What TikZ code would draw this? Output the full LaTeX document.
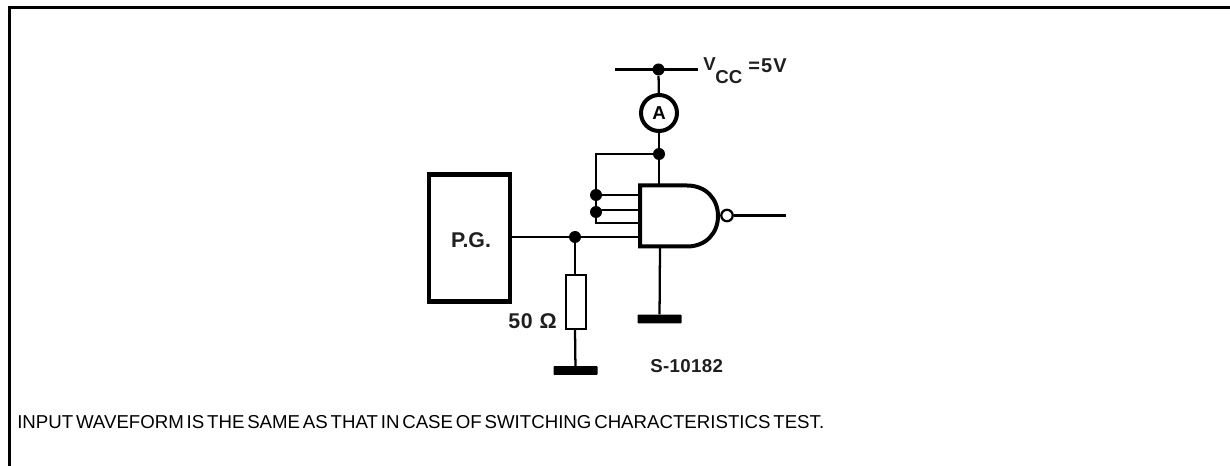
\documentclass[tikz,border=0pt]{standalone}
\usepackage{fontspec}
\usetikzlibrary{shapes.geometric}
\setmainfont{Liberation Sans}
\begin{document}
\begin{tikzpicture}[x=0.75pt,y=-0.75pt,
  wire/.style={line width=1.7pt,black},
  dotj/.style={circle,fill=black,draw=none,minimum size=9pt,inner sep=0pt},
  bar/.style={fill=black,draw=none,rounded corners=0.5pt,inner sep=0pt,minimum width=33pt,minimum height=6.4pt},
  scan/.style={font=\fontsize{14pt}{15pt}\selectfont\bfseries,text=black!88,inner sep=0pt},
  frame/.style={line width=2.3pt,black}]
\useasboundingbox (0,0) rectangle (1230,466);
\draw[frame] (9.5,466) -- (9.5,7.5) -- (1230,7.5);
% supply
\coordinate (vl) at (615,69.5);
\coordinate (vr) at (698,69.5);
\node[dotj] (j1) at (658.5,69.5) {};
\node[circle,draw=black,line width=3pt,minimum size=27pt,inner sep=0pt,font=\fontsize{14pt}{15pt}\selectfont\bfseries] (am) at (659,113) {A};
\node[dotj] (j2) at (659,154) {};
\coordinate (c1) at (596,154);
\node[dotj] (j3) at (596,195) {};
\node[dotj] (j4) at (596,212) {};
\coordinate (c2) at (596,223);
\coordinate (i1) at (638,195);
\coordinate (i2) at (638,210);
\coordinate (i3) at (638,223);
\coordinate (i4) at (638,237);
\coordinate (gt) at (659,185);
\coordinate (gb) at (660,247);
\node[circle,draw=black,line width=1.7pt,minimum size=8.6pt,inner sep=0pt] (bub) at (727,215.5) {};
\coordinate (out) at (786,215.5);
\node[draw=black,line width=3.4pt,minimum width=60.5pt,minimum height=95pt,inner sep=0pt] (pg) at (469.5,238) {};
\node[scan,font=\fontsize{16pt}{17pt}\selectfont\bfseries] (pgt) at (471,240) {P.G.};
\node[dotj] (j5) at (575,237) {};
\node[draw=black,line width=1.7pt,minimum width=15.5pt,minimum height=40pt,inner sep=0pt] (res) at (576,302) {};
\node[bar] (g1) at (575.5,370.5) {};
\node[bar] (g2) at (659.5,319) {};
\draw[wire] (vl) -- (vr);
\draw[wire] (j1) -- (am);
\draw[wire] (am) -- (j2) -- (gt);
\draw[wire] (j2) -- (c1) -- (c2) -- (i3);
\draw[wire] (j3) -- (i1);
\draw[wire] (j4 |- i2) -- (i2);
\draw[wire] (pg.east |- j5) -- (i4);
\draw[wire] (j5) -- (j5 |- res.north);
\draw[wire] (j5 |- res.south) -- (g1);
\draw[wire] (gb) -- (g2);
\draw[wire] (bub) -- (out);
% gate
\draw[line width=3pt,black,line join=miter] (687,185.5) -- (640,185.5) -- (640,246.5) -- (687,246.5)
  .. controls (706,246.5) and (718,233) .. (718,216)
  .. controls (718,199) and (706,185.5) .. (687,185.5) -- cycle;
% labels
\node[scan,anchor=base west] (v) at (703,71) {V};
\node[scan,anchor=base west] (cc) at (715,84) {CC};
\node[scan,font=\fontsize{15pt}{16pt}\selectfont\bfseries,anchor=base west] (five) at (748,73) {\addfontfeatures{LetterSpace=6}=5V};
\node[scan,font=\fontsize{16pt}{17pt}\selectfont\bfseries,anchor=base east] (ohm) at (557,328) {\addfontfeatures{LetterSpace=4}50 Ω};
\node[scan,anchor=base west] (sn) at (650,372) {\addfontfeatures{LetterSpace=2}S-10182};
\node[anchor=base west,inner sep=0pt,font=\fontsize{14pt}{15pt}\selectfont] (foot) at (17,428) {\spaceskip=2.1pt INPUT WAVEFORM IS THE SAME AS THAT IN CASE OF SWITCHING CHARACTERISTICS TEST.};
\end{tikzpicture}
\end{document}
